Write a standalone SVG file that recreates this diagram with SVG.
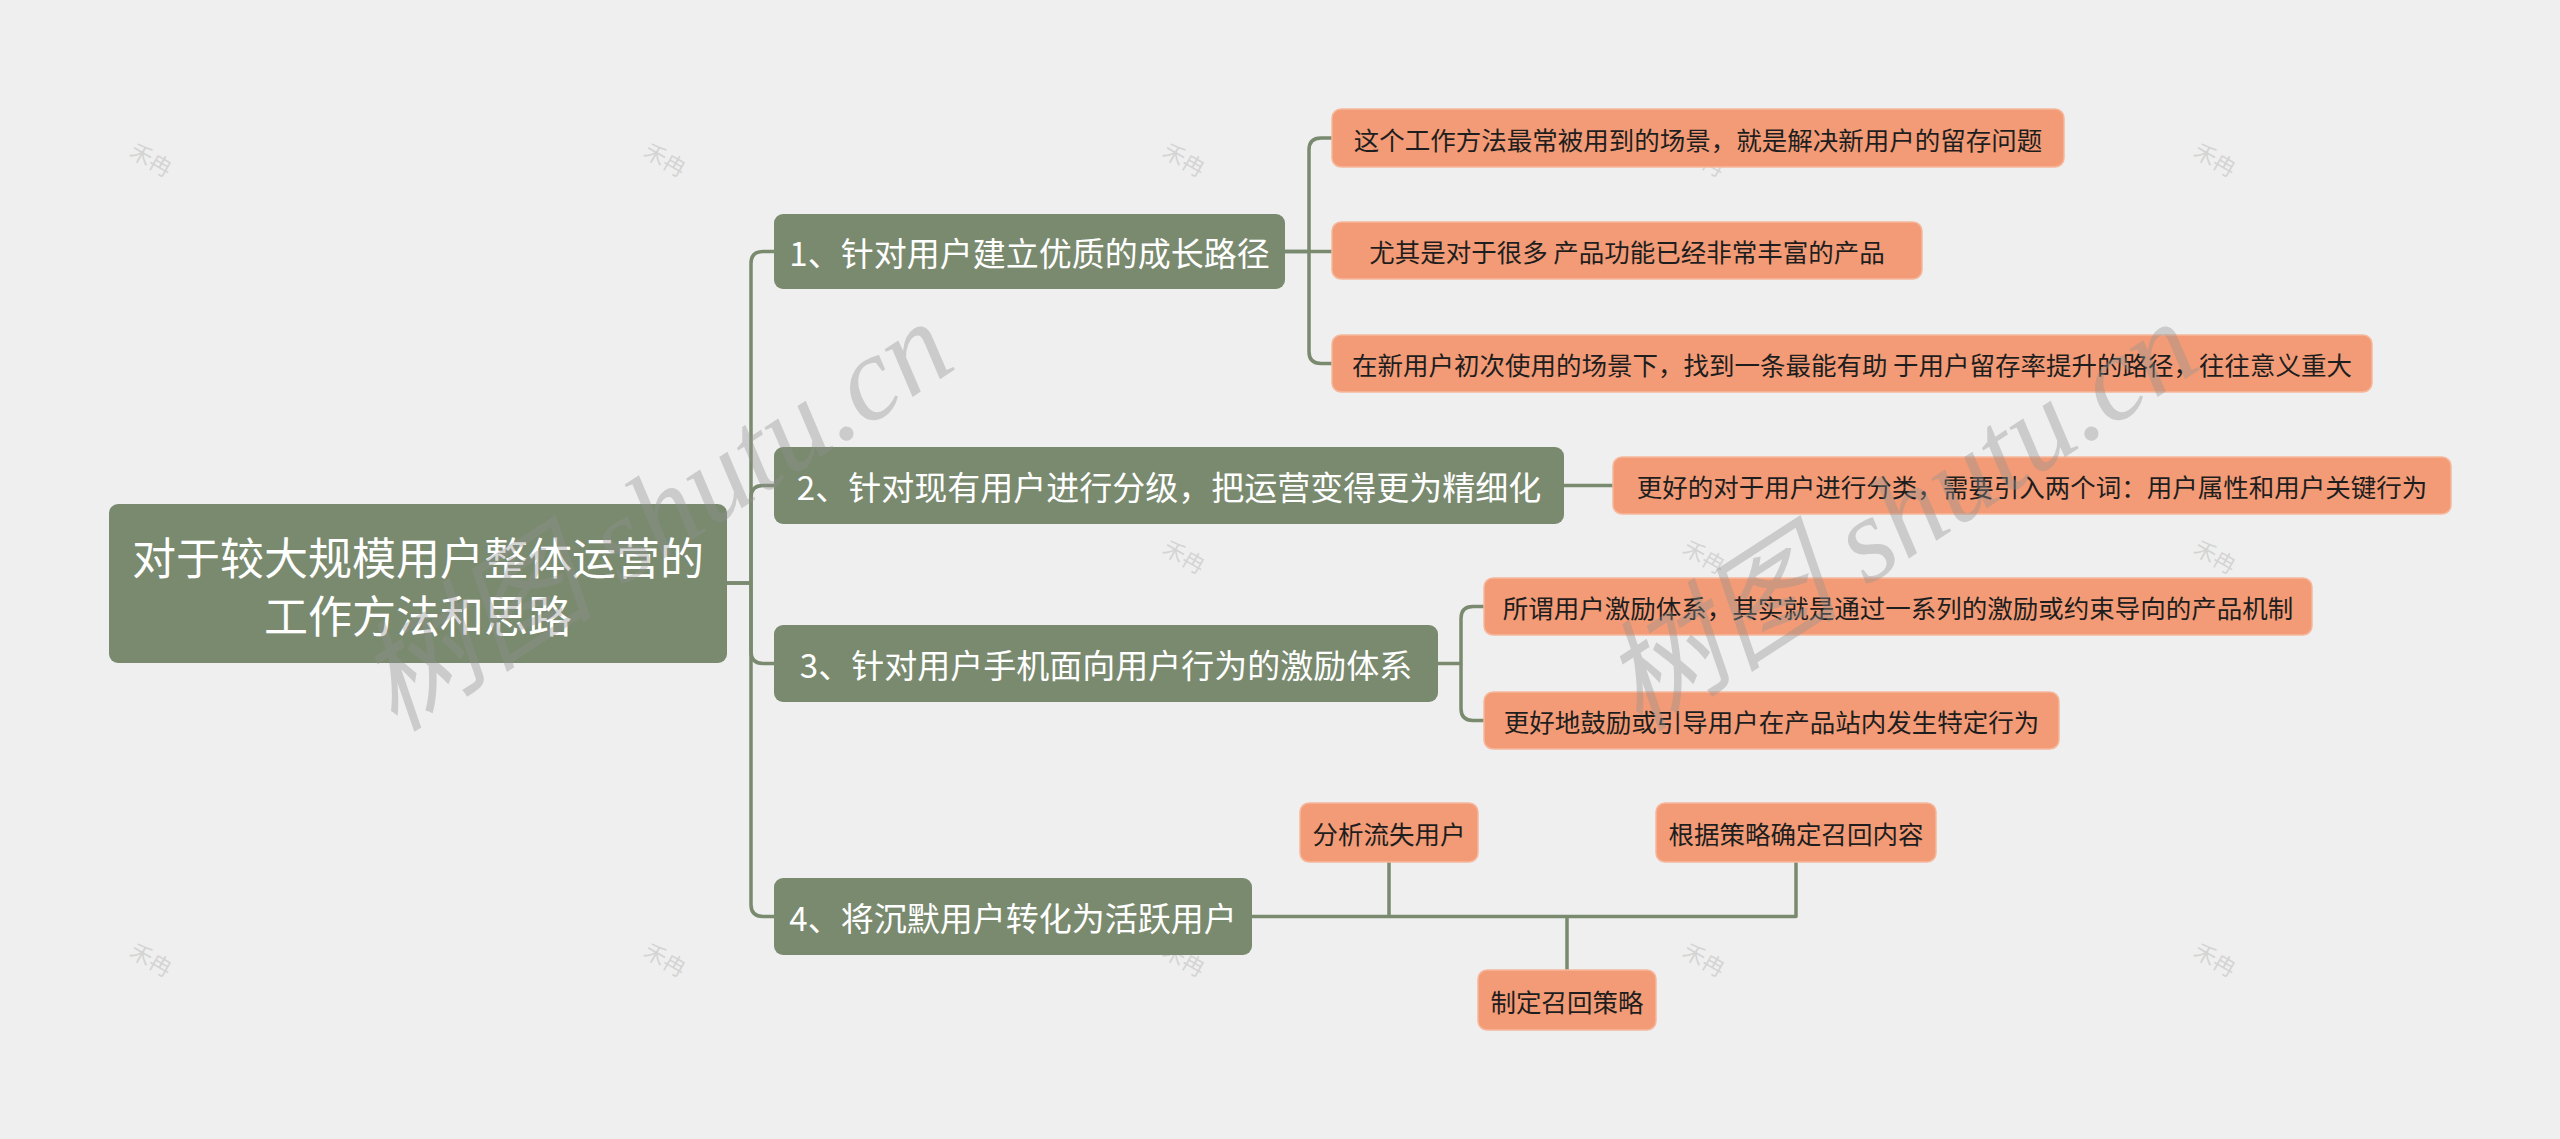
<svg xmlns="http://www.w3.org/2000/svg" width="2560" height="1139" viewBox="0 0 2560 1139">
<style>
.bg{fill:#efefef}
.g{fill:#7a8a6f}
.o{fill:#f29b76;stroke:#f6b89c;stroke-width:1.5}
.tw{fill:#ffffff;font-family:"Noto Sans CJK SC","Noto Sans",sans-serif;text-anchor:middle;dominant-baseline:central}
.tb{fill:#1e1e1e;font-family:"Noto Sans CJK SC","Noto Sans",sans-serif;text-anchor:middle;dominant-baseline:central;font-size:25.5px}
.c{fill:none;stroke:#7a8a6f;stroke-width:3.5;stroke-linejoin:round}
.wm{fill:#909090;fill-opacity:0.38;font-family:"Liberation Serif","Noto Sans CJK SC",serif;font-style:italic;font-size:120px;text-anchor:middle;dominant-baseline:central}
.sm{fill:#c8c8c8;fill-opacity:0.7;font-family:"Noto Sans CJK SC",sans-serif;font-size:22px;text-anchor:middle;dominant-baseline:central}
</style>
<rect class="bg" x="0" y="0" width="2560" height="1139"/>
<g id="small-marks">
<text class="sm" transform="translate(152,158) rotate(30)">禾冉</text>
<text class="sm" transform="translate(666,158) rotate(30)">禾冉</text>
<text class="sm" transform="translate(1185,158) rotate(30)">禾冉</text>
<text class="sm" transform="translate(1705,158) rotate(30)">禾冉</text>
<text class="sm" transform="translate(2216,158) rotate(30)">禾冉</text>
<text class="sm" transform="translate(1185,555) rotate(30)">禾冉</text>
<text class="sm" transform="translate(1705,555) rotate(30)">禾冉</text>
<text class="sm" transform="translate(2216,555) rotate(30)">禾冉</text>
<text class="sm" transform="translate(152,958) rotate(30)">禾冉</text>
<text class="sm" transform="translate(666,958) rotate(30)">禾冉</text>
<text class="sm" transform="translate(1185,958) rotate(30)">禾冉</text>
<text class="sm" transform="translate(1705,958) rotate(30)">禾冉</text>
<text class="sm" transform="translate(2216,958) rotate(30)">禾冉</text>
</g>
<g id="connectors">
<path class="c" d="M727,583 H751 V263.5 Q751,251.5 763,251.5 H774"/>
<path class="c" d="M727,583 H751 V904.5 Q751,916.5 763,916.5 H774"/>
<path class="c" d="M751,583 V497.5 Q751,485.5 763,485.5 H774"/>
<path class="c" d="M751,583 V651.5 Q751,663.5 763,663.5 H774"/>
<path class="c" d="M1285,251.5 H1309 V150 Q1309,138 1321,138 H1332"/>
<path class="c" d="M1285,251.5 H1332"/>
<path class="c" d="M1309,251.5 V351.5 Q1309,363.5 1321,363.5 H1332"/>
<path class="c" d="M1564,485.5 H1613"/>
<path class="c" d="M1438,663.5 H1461 V618.5 Q1461,606.5 1473,606.5 H1484"/>
<path class="c" d="M1461,663.5 V708.5 Q1461,720.5 1473,720.5 H1484"/>
<path class="c" d="M1252,916.5 H1796 V862"/>
<path class="c" d="M1389,916.5 V862"/>
<path class="c" d="M1567,916.5 V970"/>
</g>
<g id="root">
<rect class="g" x="109" y="504" width="618" height="159" rx="9"/>
<text class="tw" x="418" y="556" font-size="44">对于较大规模用户整体运营的</text>
<text class="tw" x="418" y="614" font-size="44">工作方法和思路</text>
</g>
<g id="n1">
<rect class="g" x="774" y="214" width="511" height="75" rx="9"/>
<text class="tw" x="1029.5" y="251.5" font-size="33">1、针对用户建立优质的成长路径</text>
</g>
<g id="n2">
<rect class="g" x="774" y="447" width="790" height="77" rx="9"/>
<text class="tw" x="1169" y="485.5" font-size="33">2、针对现有用户进行分级，把运营变得更为精细化</text>
</g>
<g id="n3">
<rect class="g" x="774" y="625" width="664" height="77" rx="9"/>
<text class="tw" x="1106" y="663.5" font-size="33">3、针对用户手机面向用户行为的激励体系</text>
</g>
<g id="n4">
<rect class="g" x="774" y="878" width="478" height="77" rx="9"/>
<text class="tw" x="1013" y="916.5" font-size="33">4、将沉默用户转化为活跃用户</text>
</g>
<g id="n1a">
<rect class="o" x="1332" y="109" width="732" height="58" rx="9"/>
<text class="tb" x="1698" y="138">这个工作方法最常被用到的场景，就是解决新用户的留存问题</text>
</g>
<g id="n1b">
<rect class="o" x="1332" y="222" width="590" height="57" rx="9"/>
<text class="tb" x="1627" y="250.5">尤其是对于很多 产品功能已经非常丰富的产品</text>
</g>
<g id="n1c">
<rect class="o" x="1332" y="335" width="1040" height="57" rx="9"/>
<text class="tb" x="1852" y="363.5">在新用户初次使用的场景下，找到一条最能有助 于用户留存率提升的路径，往往意义重大</text>
</g>
<g id="n2a">
<rect class="o" x="1613" y="457" width="838" height="57" rx="9"/>
<text class="tb" x="2032" y="485.5">更好的对于用户进行分类，需要引入两个词：用户属性和用户关键行为</text>
</g>
<g id="n3a">
<rect class="o" x="1484" y="578" width="828" height="57" rx="9"/>
<text class="tb" x="1898" y="606.5">所谓用户激励体系，其实就是通过一系列的激励或约束导向的产品机制</text>
</g>
<g id="n3b">
<rect class="o" x="1484" y="692" width="575" height="57" rx="9"/>
<text class="tb" x="1771.5" y="720.5">更好地鼓励或引导用户在产品站内发生特定行为</text>
</g>
<g id="n4a">
<rect class="o" x="1300" y="803" width="178" height="59" rx="9"/>
<text class="tb" x="1389" y="832.5">分析流失用户</text>
</g>
<g id="n4b">
<rect class="o" x="1656" y="803" width="280" height="59" rx="9"/>
<text class="tb" x="1796" y="832.5">根据策略确定召回内容</text>
</g>
<g id="n4c">
<rect class="o" x="1478" y="970" width="178" height="60" rx="9"/>
<text class="tb" x="1567" y="1000">制定召回策略</text>
</g>
<g id="watermarks">
<text class="wm" transform="translate(655,516) rotate(-33)">树图 shutu.cn</text>
<text class="wm" transform="translate(1900,516) rotate(-33)">树图 shutu.cn</text>
</g>
</svg>
